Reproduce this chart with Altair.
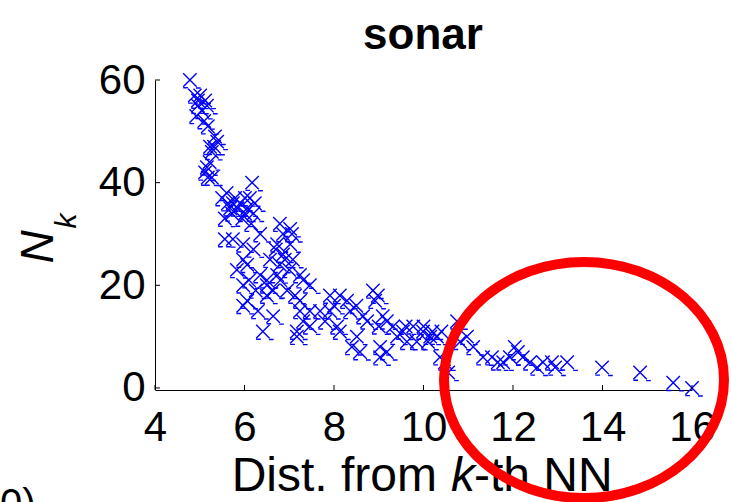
import altair as alt
import pandas as pd

# ---- data ----
dist = [
    4.78, 4.89, 4.96, 5.01, 5.12, 4.96, 5.16, 5.05, 4.92, 5.10, 5.18, 5.34, 5.23, 5.39, 5.27, 5.32,
    5.22, 5.16, 5.12, 5.18, 5.27, 6.17,
    5.50, 5.60, 5.63, 5.74, 5.79, 5.90, 6.01, 6.12, 6.23, 5.68, 5.84, 6.06, 5.72, 6.01, 6.20, 5.56,
    5.95, 6.15,
    6.79, 7.02, 6.86, 7.06, 6.35, 5.56, 5.74, 5.97, 6.73, 7.02, 6.70, 6.20, 6.86, 6.90, 7.08, 5.97,
    6.57, 6.79, 6.06, 5.83, 7.00, 6.35, 6.73, 7.24, 6.10, 6.50, 6.80, 7.31, 5.97, 6.50, 7.46, 6.25,
    6.64, 6.95, 7.13, 6.50, 6.06, 7.24, 5.97, 7.24, 6.30, 6.64, 6.41, 7.17,
    7.91, 8.13, 8.29, 8.87, 8.98, 7.46, 7.69, 7.91, 8.36, 7.31, 8.65, 8.74, 9.18, 9.32, 7.46, 8.07,
    7.17, 8.13, 8.51, 8.58, 9.03, 9.18, 8.40, 7.80, 8.00, 8.50,
    8.92, 9.09, 9.00, 9.54, 9.77, 9.99, 10.15, 9.41, 9.63, 9.85, 9.03, 10.37, 10.48, 10.82, 9.60,
    10.00, 10.20, 10.30, 10.40, 10.10,
    10.75, 10.97, 11.11, 10.55, 11.33, 11.53, 11.66, 11.78, 12.04, 12.11, 12.22, 11.93, 12.38,
    12.54, 12.67, 12.87, 12.94, 13.21, 13.99, 14.84, 15.58, 16.00,
]
nk = [
    60, 57, 56, 57, 56, 55, 55, 54, 53, 52, 51, 49, 47, 48, 46, 47,
    44, 43, 42, 41, 41, 40,
    37, 38, 36, 36, 37, 36, 37, 37, 36, 35, 35, 35, 34, 34, 34, 33,
    33, 32,
    32, 31, 30, 30, 30, 29, 29, 28, 28, 28, 27, 27, 26, 25, 25, 25,
    25, 24, 24, 23, 23, 22, 22, 22, 21, 21, 21, 21, 20, 20, 20, 19,
    19, 19, 18, 18, 17, 17, 16, 15, 15, 14, 11, 11,
    18, 18, 17, 19, 18, 15, 15, 15, 15, 13, 14, 13, 13, 12, 12, 12,
    10, 11, 10, 7, 8, 7, 8, 13, 16, 16,
    17, 14, 12, 11, 12, 11, 10, 10, 9, 9, 6, 6, 5, 9, 12,
    12, 11, 10, 11, 9,
    13, 10, 8, 3, 6, 6, 5, 5, 8, 7, 6, 6, 5,
    4, 5, 5, 4, 5, 4, 3, 1, 0,
]
x_ticks = [4, 6, 8, 10, 12, 14, 16]
y_ticks = [0, 20, 40, 60]
title_text = ["sonar"]
xlab_parts = ["Dist. from", "k", "-th NN"]
ylab_parts = ["N", "k"]
stray_text = ["0)"]

W, H = 537, 310
FONT = "Liberation Sans"

df = pd.DataFrame({"dist": dist, "nk": nk})
xs = alt.Scale(domain=[4, 16], nice=False, zero=False)
ys = alt.Scale(domain=[-0.4, 60], nice=False, zero=False)

x_axis = alt.Axis(
    values=x_ticks, title=None, ticks=False, tickSize=0, grid=False,
    domainColor="black", domainWidth=1, labelFont=FONT, labelFontSize=42,
    labelColor="black", labelPadding=17, labelFlush=False, labelOverlap=False)
y_axis = alt.Axis(
    values=y_ticks, title=None, ticks=False, tickSize=0, grid=False,
    domainColor="black", domainWidth=1, labelFont=FONT, labelFontSize=42,
    labelColor="black", labelPadding=10, labelFlush=False, labelOverlap=False)

xmark = "M -1 -1 L 1 1 M -1 1 L 1 -1 M -1 1.15 L -0.3 1.15 M 0.9 1.2 L 1.6 1.2"

points = alt.Chart(df).mark_point(
    shape=xmark, filled=False, color="#0000FF", strokeWidth=1.4, size=180, opacity=1
).encode(
    x=alt.X("dist:Q", scale=xs, axis=x_axis),
    y=alt.Y("nk:Q", scale=ys, axis=y_axis),
)

xt = alt.Chart(pd.DataFrame({"dist": x_ticks})).mark_rule(color="black", strokeWidth=1).encode(
    x=alt.X("dist:Q", scale=xs, axis=x_axis), y=alt.value(H), y2=alt.value(H - 5))
yt = alt.Chart(pd.DataFrame({"nk": y_ticks})).mark_rule(color="black", strokeWidth=1).encode(
    y=alt.Y("nk:Q", scale=ys, axis=y_axis), x=alt.value(0), x2=alt.value(5))

def txt(s, x, y, size, **kw):
    return alt.Chart(pd.DataFrame({"t": [s]})).mark_text(
        font=FONT, fontSize=size, color="black", **kw
    ).encode(text="t:N", x=alt.value(x), y=alt.value(y))

title = txt(title_text[0], 268, -31, 44, fontWeight="bold", align="center", baseline="alphabetic")
xl1 = txt(xlab_parts[0], 282, 411, 48, align="right", baseline="alphabetic")
xl2 = txt(xlab_parts[1], 296, 411, 48, align="left", baseline="alphabetic", fontStyle="italic")
xl3 = txt(xlab_parts[2], 319, 411, 48, align="left", baseline="alphabetic")
yl1 = txt(ylab_parts[0], -102, 167, 46, align="center", baseline="alphabetic", fontStyle="italic", angle=270)
yl2 = txt(ylab_parts[1], -79, 141, 30, align="center", baseline="alphabetic", fontStyle="italic", angle=270)
stray = txt(stray_text[0], -155, 437, 40, align="left", baseline="alphabetic")

ellipse_path = "M -1 0 A 1 0.843 0 1 1 1 0 A 1 0.843 0 1 1 -1 0 Z"
ellipse = alt.Chart(pd.DataFrame({"e": [1]})).mark_point(
    shape=ellipse_path, filled=False, color="#FF0000", strokeWidth=10, size=78400, opacity=1
).encode(x=alt.value(429), y=alt.value(300))

chart = alt.layer(points, xt, yt, title, xl1, xl2, xl3, yl1, yl2, stray, ellipse).properties(
    width=W, height=H,
    autosize=alt.AutoSizeParams(type="none"),
    padding={"left": 155, "top": 80, "right": 39, "bottom": 112},
    background="white",
).configure_view(stroke=None)

chart.save("out.html", embed_options={"renderer": "svg", "actions": False})
